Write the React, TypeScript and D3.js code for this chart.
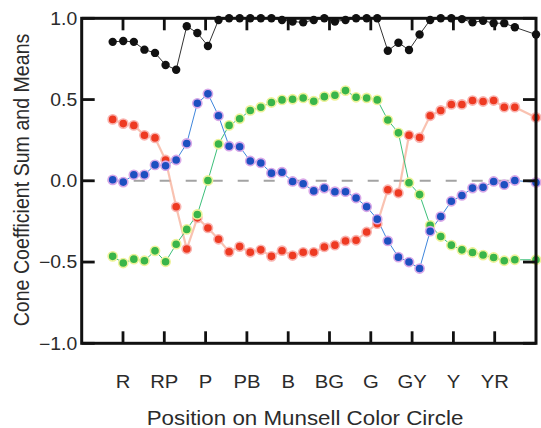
import React from "react";
import * as d3 from "d3";

// ---- data ----
const hueLabels = ["R", "RP", "P", "PB", "B", "BG", "G", "GY", "Y", "YR"];
const hueTickPos = [1, 2, 3, 4, 5, 6, 7, 8, 9, 10];
// sample index along the circle (index 39 absent in the source)
const sampleIdx = [
  0, 1, 2, 3, 4, 5, 6, 7, 8, 9, 10, 11, 12, 13, 14, 15, 16, 17, 18, 19,
  20, 21, 22, 23, 24, 25, 26, 27, 28, 29, 30, 31, 32, 33, 34, 35, 36, 37, 38, 40,
];
const sumSeries = [
  0.855, 0.86, 0.855, 0.807, 0.787, 0.713, 0.683, 0.951, 0.91, 0.83,
  0.99, 1.0, 1.0, 1.0, 1.0, 1.0, 0.99, 0.98, 0.975, 0.99,
  1.0, 0.98, 0.99, 1.0, 1.0, 1.0, 0.8, 0.85, 0.805, 0.9,
  0.99, 1.0, 1.0, 0.995, 0.975, 0.985, 0.97, 0.97, 0.945, 0.9,
];
const redSeries = [
  0.378, 0.352, 0.341, 0.28, 0.264, 0.128, -0.16, -0.42, -0.228, -0.29,
  -0.36, -0.437, -0.405, -0.44, -0.425, -0.465, -0.43, -0.46, -0.44, -0.44,
  -0.407, -0.396, -0.37, -0.366, -0.315, -0.264, -0.055, -0.075, 0.28, 0.266,
  0.4, 0.433, 0.47, 0.47, 0.494, 0.488, 0.494, 0.453, 0.453, 0.39,
];
const blueSeries = [
  0.006, -0.008, 0.037, 0.037, 0.098, 0.093, 0.128, 0.23, 0.477, 0.535,
  0.4, 0.213, 0.21, 0.122, 0.11, 0.047, 0.053, -0.004, -0.018, -0.062,
  -0.045, -0.067, -0.067, -0.106, -0.16, -0.236, -0.37, -0.47, -0.5, -0.54,
  -0.31, -0.22, -0.126, -0.09, -0.045, -0.04, -0.004, -0.024, 0.002, -0.01,
];
const greenSeries = [
  -0.465, -0.506, -0.482, -0.492, -0.431, -0.498, -0.39, -0.299, -0.207, 0.002,
  0.226, 0.341, 0.382, 0.433, 0.453, 0.482, 0.498, 0.502, 0.51, 0.49,
  0.518, 0.526, 0.555, 0.514, 0.51, 0.498, 0.374, 0.295, -0.012, -0.085,
  -0.274, -0.343, -0.396, -0.425, -0.441, -0.457, -0.472, -0.492, -0.486, -0.486,
];
const yTicks = [1.0, 0.5, 0.0, -0.5, -1.0];

const W = 541;
const H = 428;
const M = { left: 81.7, right: 536, top: 18.3, bottom: 343.3 };
const TXT = "#2b2b2b";
const FONT = "'Liberation Sans', Arial, Helvetica, sans-serif";
const SX = 1.09;

export default function App() {
  const x = d3.scaleLinear().domain([0, 11]).range([M.left, M.right]);
  const xi = d3.scaleLinear().domain([0, 40]).range([x(0.75), x(11)]);
  const y = d3.scaleLinear().domain([-1, 1]).range([M.bottom, M.top]);

  const line = d3
    .line<number>()
    .x((_, i) => xi(sampleIdx[i]))
    .y((d) => y(d));

  const series = [
    { data: redSeries, fill: "#ee3a22", halo: "#f9b4b0", line: "#f7a890", lw: 2.2, lop: 0.7 },
    { data: greenSeries, fill: "#39b54a", halo: "#eef29a", line: "#3cbf7a", lw: 1, lop: 1 },
    { data: blueSeries, fill: "#1d50c0", halo: "#d8a8e8", line: "#3f86dc", lw: 1, lop: 1 },
  ];

  return (
    <svg
      width={W}
      height={H}
      style={{ position: "absolute", left: 0, top: 0, background: "#fff" }}
      fontFamily={FONT}
    >
      <rect x={0} y={0} width={W} height={H} fill="#fff" />
      {/* zero dashed line */}
      <line
        x1={M.left}
        x2={M.right}
        y1={y(0)}
        y2={y(0)}
        stroke="#a3a3a3"
        strokeWidth={2}
        strokeDasharray="11,15"
      />
      {/* coloured series */}
      {series.map((s, k) => (
        <g key={k}>
          <path d={line(s.data) || ""} fill="none" stroke={s.line} strokeWidth={s.lw} strokeOpacity={s.lop} />
        </g>
      ))}
      {series.map((s, k) => (
        <g key={"p" + k}>
          {s.data.map((d, i) => (
            <circle
              key={i}
              cx={xi(sampleIdx[i])}
              cy={y(d)}
              r={4.6}
              fill={s.fill}
              stroke={s.halo}
              strokeWidth={1.6}
            />
          ))}
        </g>
      ))}
      {/* sum series (black) */}
      <path d={line(sumSeries) || ""} fill="none" stroke="#333" strokeWidth={1} />
      {sumSeries.map((d, i) => (
        <circle key={i} cx={xi(sampleIdx[i])} cy={y(d)} r={4.2} fill="#111" />
      ))}

      {/* frame */}
      <rect
        x={M.left}
        y={M.top}
        width={M.right - M.left}
        height={M.bottom - M.top}
        fill="none"
        stroke="#111"
        strokeWidth={3}
      />
      {/* x ticks top & bottom */}
      {hueTickPos.map((t) => (
        <g key={t}>
          <line x1={x(t)} x2={x(t)} y1={M.top} y2={M.top + 12} stroke="#111" strokeWidth={2.8} />
          <line x1={x(t)} x2={x(t)} y1={M.bottom} y2={M.bottom - 12} stroke="#111" strokeWidth={2.8} />
        </g>
      ))}
      {/* y ticks left & right */}
      {yTicks.map((t) => (
        <g key={t}>
          <line x1={M.left} x2={M.left + 13} y1={y(t)} y2={y(t)} stroke="#111" strokeWidth={2.8} />
          <line x1={M.right} x2={M.right - 13} y1={y(t)} y2={y(t)} stroke="#111" strokeWidth={2.8} />
        </g>
      ))}
      {/* y tick labels */}
      {yTicks.map((t) => (
        <text
          key={t}
          transform={`translate(${M.left - 4.5},${y(t) + 6.4}) scale(${SX},1)`}
          textAnchor="end"
          fontSize={17.8}
          fill={TXT}
        >
          {d3.format(".1f")(t)}
        </text>
      ))}
      {/* x tick labels */}
      {hueTickPos.map((t, i) => (
        <text
          key={t}
          transform={`translate(${x(t)},${388.3}) scale(${SX},1)`}
          textAnchor="middle"
          fontSize={18.6}
          fill={TXT}
        >
          {hueLabels[i]}
        </text>
      ))}
      {/* axis titles */}
      <text
        transform={`translate(305,424.5) scale(${SX},1)`}
        textAnchor="middle"
        fontSize={20.5}
        fill={TXT}
      >
        Position on Munsell Color Circle
      </text>
      <text
        transform={`translate(29.3,180) rotate(-90) scale(1,${SX})`}
        textAnchor="middle"
        fontSize={19.6}
        fill={TXT}
      >
        Cone Coefficient Sum and Means
      </text>
    </svg>
  );
}
